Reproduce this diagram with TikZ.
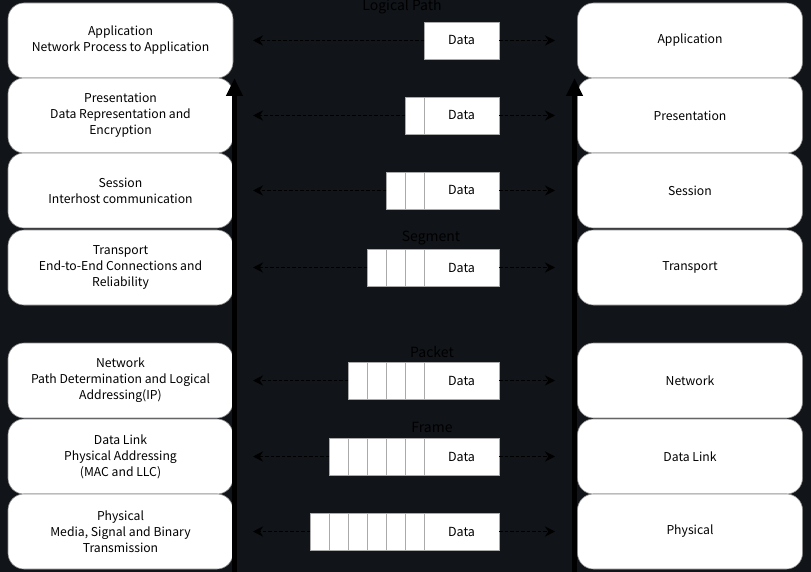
\documentclass[tikz,border=0pt]{standalone}
\usepackage{fontspec}
\setmainfont{Noto Sans CJK KR}
\usetikzlibrary{arrows.meta,positioning}
\definecolor{bgc}{RGB}{17,20,24}
\definecolor{bordc}{RGB}{140,140,140}
\definecolor{cellc}{RGB}{170,170,170}
\begin{document}
\begin{tikzpicture}[x=1pt,y=-1pt,
  layerbox/.style={draw=bordc,line width=0.6pt,fill=white,rounded corners=16pt,
    minimum width=225pt,minimum height=75pt,align=center,font=\fontsize{12.2}{16}\selectfont,inner sep=0pt},
  cell/.style={draw=cellc,line width=0.8pt,fill=white,minimum width=19pt,minimum height=37pt,inner sep=0pt,outer sep=0pt},
  datacell/.style={draw=cellc,line width=0.8pt,fill=white,minimum width=75pt,minimum height=37pt,inner sep=0pt,outer sep=0pt,font=\fontsize{12.5}{15}\selectfont},
  dasharrow/.style={dash pattern=on 3.5pt off 2pt,line width=1.7pt,black,-{Stealth[length=10pt,width=10pt]}},
  bigarrow/.style={line width=5pt,black,-{Triangle[length=18pt,width=16pt]}},
  plabel/.style={font=\fontsize{14}{16}\selectfont,text=black,inner sep=0pt}]
\fill[bgc] (0,0) rectangle (811,572);
\useasboundingbox (0,0) rectangle (811,572);
% left layer boxes
\node[layerbox] (L1) at (120.5,40.5) {Application\\Network Process to Application};
\node[layerbox] (L2) at (120.5,115.5) {Presentation\\Data Representation and\\Encryption};
\node[layerbox] (L3) at (120.5,190.5) {Session\\Interhost communication};
\node[layerbox] (L4) at (120.5,267.5) {Transport\\End-to-End Connections and\\Reliability};
\node[layerbox] (L5) at (120.5,380.5) {Network\\Path Determination and Logical\\Addressing(IP)};
\node[layerbox] (L6) at (120.5,456.5) {Data Link\\Physical Addressing\\(MAC and LLC)};
\node[layerbox] (L7) at (120.5,531.5) {Physical\\Media, Signal and Binary\\Transmission};
% right layer boxes
\node[layerbox] (R1) at (690,40.5) {Application};
\node[layerbox] (R2) at (690,115.5) {Presentation};
\node[layerbox] (R3) at (690,190.5) {Session};
\node[layerbox] (R4) at (690,267.5) {Transport};
\node[layerbox] (R5) at (690,380.5) {Network};
\node[layerbox] (R6) at (690,456.5) {Data Link};
\node[layerbox] (R7) at (690,531.5) {Physical};
% vertical arrows
\coordinate (lb) at (234.5,572);
\coordinate (lt) at (234.5,78);
\coordinate (rb) at (574.5,572);
\coordinate (rt) at (574.5,78);
\draw[bigarrow] (lb) -- (lt);
\draw[bigarrow] (rb) -- (rt);
% data units
\foreach \r/\yy/\n in {1/40.5/0,2/115.5/1,3/190.5/2,4/267.5/3,5/380.5/4,6/456.5/5,7/531.5/6}{
  \node[datacell] (D\r) at (461.5,\yy) {Data};
  \ifnum\n>0
    \foreach \k in {1,...,\n}{
      \node[cell] (H\r-\k) at ({424-19*\k+9.5},\yy) {};
    }
  \fi
}
% dashed arrow end points
\foreach \r/\yy in {1/40.5,2/115.5,3/190.5,4/267.5,5/380.5,6/456.5,7/531.5}{
  \coordinate (El\r) at (253,\yy);
  \coordinate (Er\r) at (555,\yy);
}
% dashed arrows
\draw[dasharrow] (D1.west) -- (El1);
\draw[dasharrow] (D1.east) -- (Er1);
\draw[dasharrow] (H2-1.west) -- (El2);
\draw[dasharrow] (D2.east) -- (Er2);
\draw[dasharrow] (H3-2.west) -- (El3);
\draw[dasharrow] (D3.east) -- (Er3);
\draw[dasharrow] (H4-3.west) -- (El4);
\draw[dasharrow] (D4.east) -- (Er4);
\draw[dasharrow] (H5-4.west) -- (El5);
\draw[dasharrow] (D5.east) -- (Er5);
\draw[dasharrow] (H6-5.west) -- (El6);
\draw[dasharrow] (D6.east) -- (Er6);
\draw[dasharrow] (H7-6.west) -- (El7);
\draw[dasharrow] (D7.east) -- (Er7);
% labels
\node[plabel] (lp) at (402,7) {Logical Path};
\node[plabel] (sg) at (431,238) {Segment};
\node[plabel] (pk) at (432,352) {Packet};
\node[plabel] (fr) at (432,427) {Frame};
\end{tikzpicture}
\end{document}
